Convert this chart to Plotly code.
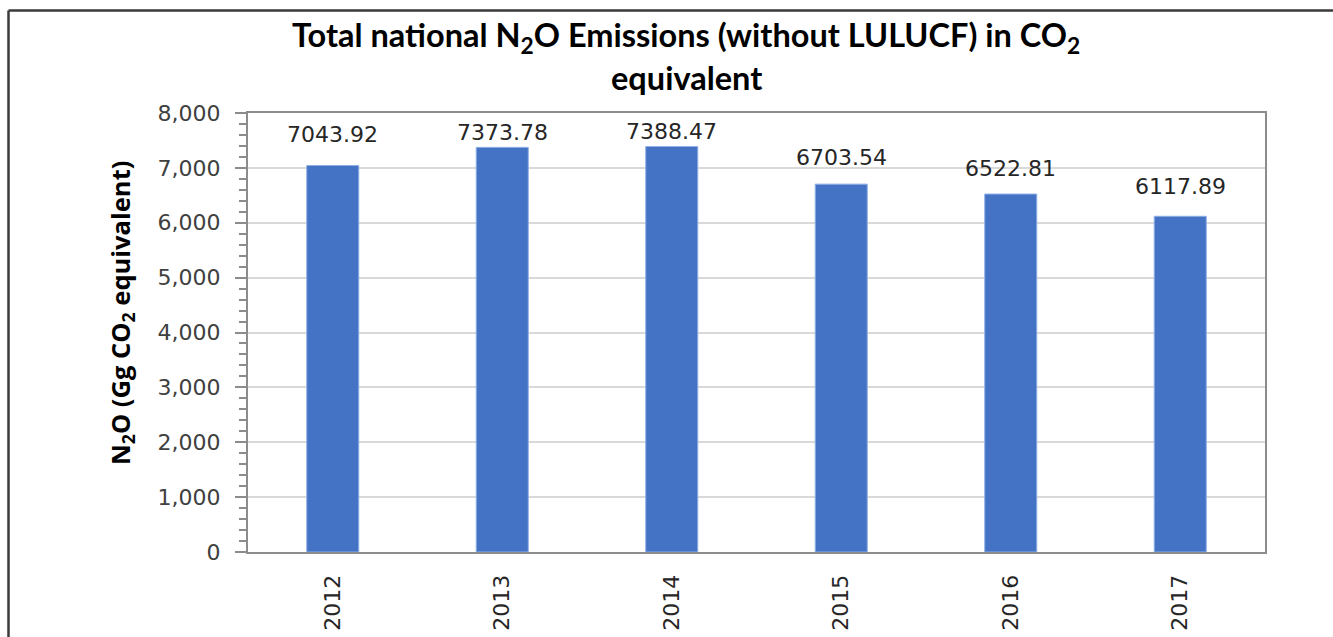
import plotly.graph_objects as go

# Total national N2O emissions (without LULUCF), Gg CO2 equivalent
years = ["2012", "2013", "2014", "2015", "2016", "2017"]
emissions = [7043.92, 7373.78, 7388.47, 6703.54, 6522.81, 6117.89]
label_texts = ["7043.92", "7373.78", "7388.47", "6703.54", "6522.81", "6117.89"]
y_ticks = [0, 1000, 2000, 3000, 4000, 5000, 6000, 7000, 8000]
y_tick_labels = ["0", "1,000", "2,000", "3,000", "4,000", "5,000", "6,000", "7,000", "8,000"]

# vertical offsets (px) of the value labels above their bars
label_shift = [31, 15, 15, 27, 26, 30]

W, H = 1333, 637
L, R, T, B = 248, 68, 113, 85
plot_w = W - L - R
plot_h = H - T - B

BAR = "#4472C4"
TXT = "#404040"
AXIS = "#8c8c8c"
GRID = "#d9d9d9"
FONT = "DejaVu Sans, Open Sans, sans-serif"
BOLD_FONT = "Open Sans, Liberation Sans, sans-serif"

pos = list(range(len(years)))

fig = go.Figure()
fig.add_trace(go.Bar(
    x=pos, y=emissions,
    marker=dict(color=BAR, line=dict(color="#8fb0e6", width=1)),
    hovertext=years, hoverinfo="text+y",
))

for p, val, txt, dy in zip(pos, emissions, label_texts, label_shift):
    fig.add_annotation(
        x=p, y=val, text=txt, showarrow=False,
        yshift=dy, yanchor="middle",
        font=dict(family=FONT, size=22, color="#262626"),
    )

# y-axis title
fig.add_annotation(
    xref="paper", yref="paper",
    x=(121 - L) / plot_w, y=(H - B - 313) / plot_h,
    text="<b>N<sub>2</sub>O (Gg CO<sub>2</sub> equivalent)</b>",
    textangle=-90, showarrow=False,
    xanchor="center", yanchor="middle",
    font=dict(family=BOLD_FONT, size=25.5, color="#000000"),
)

# chart title (two lines)
title_x = (686 - L) / plot_w
TITLE_FONT = dict(family="Lato, Open Sans, sans-serif", size=32.5, color="#000000")
fig.add_annotation(
    xref="paper", yref="paper",
    x=title_x, y=(H - B - 37) / plot_h,
    text="<b>Total national N<sub>2</sub>O Emissions (without LULUCF) in CO<sub>2</sub></b>",
    showarrow=False, xanchor="center", yanchor="middle",
    font=TITLE_FONT,
)
fig.add_annotation(
    xref="paper", yref="paper",
    x=title_x, y=(H - B - 77) / plot_h,
    text="<b>equivalent</b>",
    showarrow=False, xanchor="center", yanchor="middle",
    font=TITLE_FONT,
)

# outer chart frame (left and top edges)
fx0 = (8.5 - L) / plot_w
fy1 = (H - B - 10.5) / plot_h
fig.add_shape(type="line", xref="paper", yref="paper",
              x0=fx0, x1=fx0, y0=fy1, y1=-1.0,
              line=dict(color="#3a3a3a", width=2.5))
fig.add_shape(type="line", xref="paper", yref="paper",
              x0=fx0, x1=1.2, y0=fy1, y1=fy1,
              line=dict(color="#3a3a3a", width=2.5))

fig.update_layout(
    width=W, height=H,
    margin=dict(l=L, r=R, t=T, b=B, autoexpand=False),
    paper_bgcolor="white", plot_bgcolor="white",
    bargap=0.693,
    showlegend=False,
    font=dict(family=FONT, color=TXT),
)

fig.update_xaxes(
    range=[-0.5, len(years) - 0.5],
    tickmode="array", tickvals=pos, ticktext=years,
    tickangle=-90, ticklabelstandoff=12,
    tickfont=dict(family=FONT, size=22, color="#262626"),
    showline=True, linecolor=AXIS, linewidth=2, mirror=True,
    ticks="", showgrid=False, zeroline=False,
)

fig.update_yaxes(
    range=[0, 8000],
    tickmode="array", tickvals=y_ticks, ticktext=y_tick_labels,
    tickfont=dict(family=FONT, size=22, color=TXT),
    ticklabelstandoff=10,
    ticks="outside", ticklen=11, tickwidth=2, tickcolor=AXIS,
    minor=dict(tickmode="linear", tick0=0, dtick=200, ticks="outside",
               ticklen=7, tickwidth=2, tickcolor=AXIS, showgrid=False),
    showline=True, linecolor=AXIS, linewidth=2, mirror=True,
    showgrid=True, gridcolor=GRID, gridwidth=1.5,
    zeroline=False,
)

fig.write_html("out.html")
